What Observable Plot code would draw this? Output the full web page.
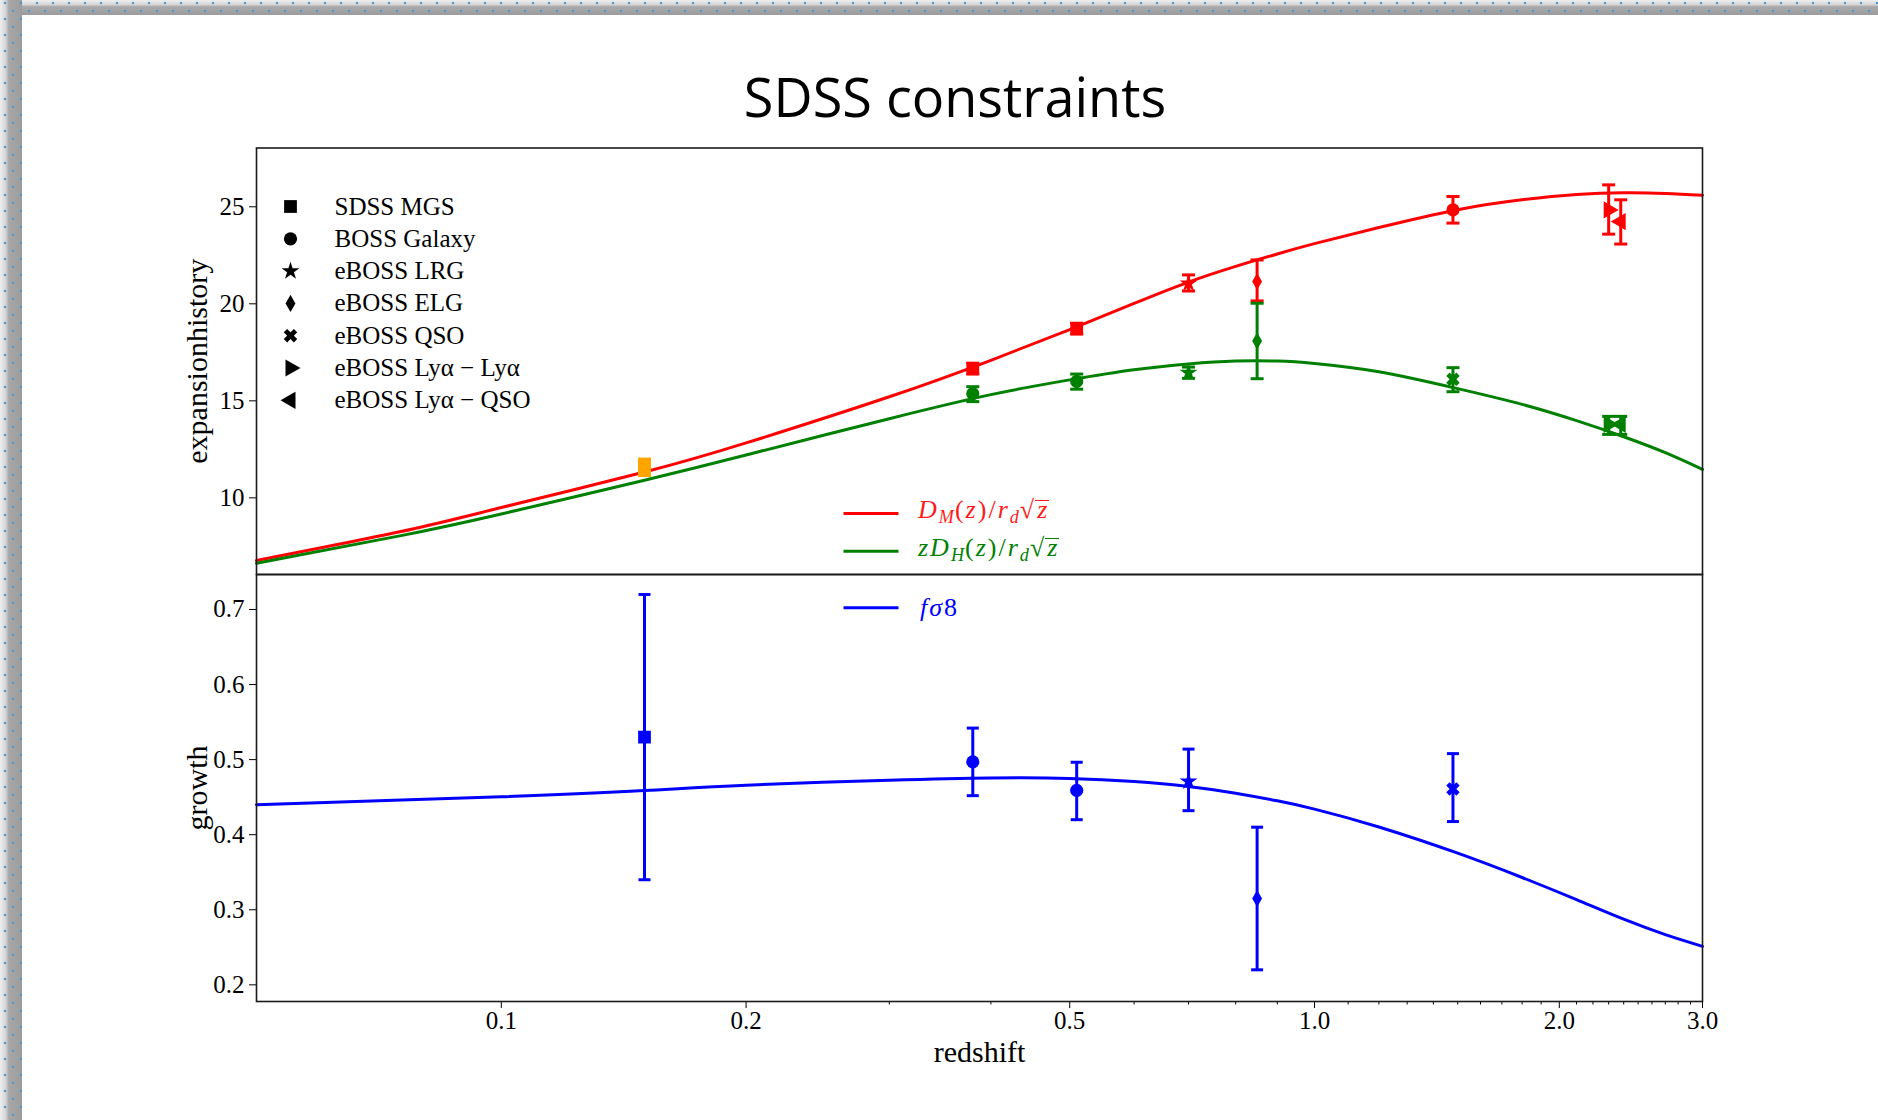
<!DOCTYPE html>
<html>
<head>
<meta charset="utf-8">
<script src="https://cdn.jsdelivr.net/npm/d3@7"></script>
<script src="https://cdn.jsdelivr.net/npm/@observablehq/plot@0.6"></script>
<style>
html, body { margin:0; padding:0; background:#fff; }
#page { position:relative; width:1878px; height:1120px; overflow:hidden; background:#fff; }
#bandTop { position:absolute; left:0; top:0; width:1878px; height:15px;
  background-image:
    radial-gradient(circle, #3f9bd8 0 1.1px, transparent 1.6px),
    radial-gradient(circle, #3f9bd8 0 1.1px, transparent 1.6px),
    linear-gradient(#eeeeee, #d6d6d6 30%, #a8a8a8 45%, #9c9c9c);
  background-size: 16px 16px, 16px 16px, 100% 100%;
  background-position: -3px -5px, 5px 3px, 0 0;
  background-repeat: repeat-x, repeat-x, no-repeat; }
#bandLeft { position:absolute; left:0; top:0; width:22px; height:1120px;
  background-image:
    radial-gradient(circle, #3f9bd8 0 1.1px, transparent 1.6px),
    radial-gradient(circle, #3f9bd8 0 1.1px, transparent 1.6px),
    radial-gradient(circle, #3f9bd8 0 1.1px, transparent 1.6px),
    linear-gradient(to right, #eeeeee, #d6d6d6 25%, #a8a8a8 40%, #9c9c9c);
  background-size: 16px 16px, 16px 16px, 16px 16px, 100% 100%;
  background-position: -3px 11px, 5px 3px, 13px 11px, 0 0;
  background-repeat: repeat-y, repeat-y, repeat-y, no-repeat; }
#title { position:absolute; left:955px; top:69px; transform:translateX(-50%);
  font-family:"Open Sans", sans-serif; font-size:54px; line-height:54px; white-space:nowrap; color:#000; }
.panel { position:absolute; left:0; }
.mathleg { position:absolute; font-family:"Liberation Serif", serif; font-size:26px; line-height:26px; letter-spacing:2px; white-space:nowrap; }
.mathleg sub { font-size:0.7em; vertical-align:-0.3em; line-height:0; font-style:italic; letter-spacing:1px; }
.mathleg .ov { display:inline-block; line-height:18px; border-top:1.5px solid currentColor; margin-left:-1px; padding-left:2px; }
</style>
</head>
<body>
<div id="page">
  <div id="bandTop"></div>
  <div id="bandLeft"></div>
  <div id="title">SDSS constraints</div>
  <div id="topPanel" class="panel" style="top:120px"></div>
  <div id="botPanel" class="panel" style="top:554px"></div>
  <div class="mathleg" style="left:918px;top:497px;color:#ff1a1a"><i>D</i><sub>M</sub>(<i>z</i>)/<i>r</i><sub>d</sub>√<span class="ov"><i>z</i></span></div>
  <div class="mathleg" style="left:918px;top:535px;color:#008000"><i>zD</i><sub>H</sub>(<i>z</i>)/<i>r</i><sub>d</sub>√<span class="ov"><i>z</i></span></div>
  <div class="mathleg" style="left:920px;top:595px;color:#0000ff"><i>fσ</i>8</div>
</div>
<script>
// ---------- data ----------
// theory curves, top panel
const curveZ   = [0.05, 0.075, 0.1, 0.15, 0.2, 0.3, 0.4, 0.5, 0.6, 0.7, 0.8, 0.9, 1.0, 1.2, 1.5, 1.8, 2.1, 2.4, 2.7, 3.0];
const dmCurve  = [6.77, 8.25, 9.5, 11.33, 12.83, 15.21, 17.09, 18.67, 20.02, 21.12, 21.93, 22.57, 23.10, 23.93, 24.85, 25.36, 25.63, 25.72, 25.69, 25.60];
const dhCurve  = [6.63, 8.04, 9.17, 10.91, 12.21, 14.08, 15.32, 16.08, 16.6, 16.9, 17.05, 17.05, 16.93, 16.5, 15.63, 14.82, 13.98, 13.15, 12.33, 11.47];
// theory curve, bottom panel
const fsCurveZ = [0.05, 0.1, 0.15, 0.2, 0.3, 0.4, 0.5, 0.6, 0.7, 0.8, 0.9, 1.0, 1.2, 1.5, 1.8, 2.1, 2.4, 2.7, 3.0];
const fsCurve  = [0.440, 0.4505, 0.4588, 0.4660, 0.4725, 0.4755, 0.4750, 0.4710, 0.4643, 0.4553, 0.4451, 0.4341, 0.4103, 0.3754, 0.3430, 0.3135, 0.2874, 0.2669, 0.2513];

// measurements
const mgsZ = [0.15], mgsV = [11.55], mgsLo = [11.05], mgsHi = [12.05], mgsSym = ["square"];
const dmZ   = [0.38, 0.51, 0.70, 0.85, 1.48, 2.30, 2.38];
const dmV   = [16.66, 18.72, 21.05, 21.15, 24.84, 24.84, 24.24];
const dmLo  = [16.38, 18.44, 20.66, 20.15, 24.16, 23.59, 23.08];
const dmHi  = [16.94, 19.0, 21.49, 22.26, 25.53, 26.13, 25.36];
const dmSym = ["square", "square", "star", "diamond", "circle", "triR", "triL"];
const dhZ   = [0.38, 0.51, 0.70, 0.85, 1.48, 2.30, 2.38];
const dhV   = [15.37, 16.0, 16.45, 18.09, 16.11, 13.79, 13.79];
const dhLo  = [14.96, 15.6, 16.16, 16.14, 15.47, 13.27, 13.27];
const dhHi  = [15.73, 16.38, 16.74, 20.03, 16.71, 14.2, 14.2];
const dhSym = ["circle", "circle", "star", "diamond", "qso", "triR", "triL"];
const fsZ   = [0.15, 0.38, 0.51, 0.70, 0.85, 1.48];
const fsV   = [0.53, 0.497, 0.459, 0.471, 0.315, 0.461];
const fsLo  = [0.34, 0.452, 0.420, 0.432, 0.220, 0.4175];
const fsHi  = [0.72, 0.542, 0.4965, 0.514, 0.41, 0.508];
const fsSym = ["square", "circle", "circle", "star", "diamond", "qso"];

// legend + ticks
const legendLabels = ["SDSS MGS", "BOSS Galaxy", "eBOSS LRG", "eBOSS ELG", "eBOSS QSO", "eBOSS Lyα − Lyα", "eBOSS Lyα − QSO"];
const legendSyms   = ["square", "circle", "star", "diamond", "qso", "triR", "triL"];
const yTopTicks = [10, 15, 20, 25];
const yBotTicks = [0.2, 0.3, 0.4, 0.5, 0.6, 0.7];
const xMajorTicks = [0.1, 0.2, 0.5, 1.0, 2.0, 3.0];
const xMinorTicks = [0.3, 0.4, 0.6, 0.7, 0.8, 0.9, 1.1, 1.2, 1.3, 1.4, 1.5, 1.6, 1.7, 1.8, 1.9, 2.1, 2.2, 2.3, 2.4, 2.5, 2.6, 2.7, 2.8, 2.9];

// ---------- helpers ----------
const rows = (Z, V, Lo, Hi, S) => Z.map((z, i) => ({z, v: V[i], lo: Lo[i], hi: Hi[i], sym: S[i]}));
const curveRows = (Z, V) => Z.map((z, i) => ({z, v: V[i]}));
const capSym = {draw(ctx, size) { const w = Math.sqrt(size / Math.PI); ctx.moveTo(-w, 0); ctx.lineTo(w, 0); }};
const MARK = {
  square:  {symbol: "square",   r: 7.2, rotate: 0},
  circle:  {symbol: "circle",   r: 6.6, rotate: 0},
  star:    {symbol: "star",     r: 5.6, rotate: 0},
  diamond: {symbol: "diamond",  r: 5.2, rotate: 0},
  qso:     {symbol: "cross",    r: 6.0, rotate: 45},
  triR:    {symbol: "triangle", r: 6.4, rotate: 90},
  triL:    {symbol: "triangle", r: 6.4, rotate: -90}
};
function pointMarks(data, color, capR, barWidth = 3) {
  const marks = [Plot.ruleX(data, {x: "z", y1: "lo", y2: "hi", stroke: color, strokeWidth: barWidth})];
  if (capR > 0) {
    marks.push(Plot.dot(data, {x: "z", y: "lo", symbol: capSym, r: capR, stroke: color, strokeWidth: 3, fill: "none"}));
    marks.push(Plot.dot(data, {x: "z", y: "hi", symbol: capSym, r: capR, stroke: color, strokeWidth: 3, fill: "none"}));
  }
  for (const key of new Set(data.map(d => d.sym))) {
    const m = MARK[key];
    marks.push(Plot.dot(data.filter(d => d.sym === key), {x: "z", y: "v", symbol: m.symbol, r: m.r, rotate: m.rotate, fill: color, stroke: "none"}));
  }
  return marks;
}
const FONT = "Liberation Serif, Times New Roman, serif";
const svgStyle = {background: "transparent", overflow: "visible", maxWidth: "none", fontFamily: FONT, fontSize: "25px", color: "#000"};

// ---------- top panel ----------
const legendMarks = [];
legendLabels.forEach((lab, i) => {
  const m = MARK[legendSyms[i]];
  legendMarks.push(Plot.dot([lab], {frameAnchor: "top-left", dx: 34, dy: 58.5 + 32.3 * i, symbol: m.symbol, r: m.r, rotate: m.rotate, fill: "#000", stroke: "none"}));
  legendMarks.push(Plot.text([lab], {frameAnchor: "top-left", dx: 78, dy: 58.5 + 32.3 * i, text: d => d, textAnchor: "start", lineAnchor: "middle", fontSize: 25, fill: "#000"}));
});
const lineSym = {draw(ctx, size) { const w = Math.sqrt(size / Math.PI); ctx.moveTo(-w, 0); ctx.lineTo(w, 0); }};

const topPlot = Plot.plot({
  width: 1878, height: 460,
  marginLeft: 256, marginRight: 176, marginTop: 27.5, marginBottom: 6,
  x: {type: "log", domain: [0.05, 3], axis: null, label: null},
  y: {domain: [6.05, 28.03], label: null},
  style: svgStyle,
  marks: [
    Plot.axisY(yTopTicks, {tickSize: 7, tickPadding: 5, fontSize: 25, label: null, tickFormat: d => String(d)}),
    Plot.text(["expansionhistory"], {frameAnchor: "left", dx: -71, rotate: -90, lineAnchor: "top", textAnchor: "middle", fontSize: 30, text: d => d, fill: "#000"}),
    Plot.line(curveRows(curveZ, dmCurve), {x: "z", y: "v", stroke: "#ff0000", strokeWidth: 3, curve: "natural"}),
    Plot.line(curveRows(curveZ, dhCurve), {x: "z", y: "v", stroke: "#008000", strokeWidth: 3, curve: "natural"}),
    ...pointMarks(rows(mgsZ, mgsV, mgsLo, mgsHi, mgsSym), "#ffa500", 0, 13),
    ...pointMarks(rows(dmZ, dmV, dmLo, dmHi, dmSym), "#ff0000", 6.5),
    ...pointMarks(rows(dhZ, dhV, dhLo, dhHi, dhSym), "#008000", 6.5),
    ...legendMarks,
    Plot.dot(["DM"], {frameAnchor: "top-left", dx: 614.5, dy: 365.5, symbol: lineSym, r: 27.5, stroke: "#ff0000", strokeWidth: 3, fill: "none"}),
    Plot.dot(["DH"], {frameAnchor: "top-left", dx: 614.5, dy: 403.2, symbol: lineSym, r: 27.5, stroke: "#008000", strokeWidth: 3, fill: "none"}),
    Plot.frame({stroke: "#1a1a1a", strokeWidth: 1.6})
  ]
});
document.getElementById("topPanel").appendChild(topPlot);

// ---------- bottom panel ----------
const botPlot = Plot.plot({
  width: 1878, height: 520,
  marginLeft: 256, marginRight: 176, marginTop: 20, marginBottom: 73,
  x: {type: "log", domain: [0.05, 3], label: null},
  y: {domain: [0.1778, 0.7466], label: null},
  style: svgStyle,
  marks: [
    Plot.axisX(xMajorTicks, {tickSize: 7, tickPadding: 3, fontSize: 25, label: null, tickFormat: d => d.toFixed(1)}),
    Plot.axisX(xMinorTicks, {tickSize: 3.5, label: null, tickFormat: () => ""}),
    Plot.axisY(yBotTicks, {tickSize: 7, tickPadding: 5, fontSize: 25, label: null, tickFormat: d => d.toFixed(1)}),
    Plot.text(["growth"], {frameAnchor: "left", dx: -71, rotate: -90, lineAnchor: "top", textAnchor: "middle", fontSize: 30, text: d => d, fill: "#000"}),
    Plot.text(["redshift"], {frameAnchor: "bottom", dy: 60, lineAnchor: "bottom", textAnchor: "middle", fontSize: 30, text: d => d, fill: "#000"}),
    Plot.line(curveRows(fsCurveZ, fsCurve), {x: "z", y: "v", stroke: "#0000ff", strokeWidth: 3, curve: "natural"}),
    ...pointMarks(rows(fsZ, fsV, fsLo, fsHi, fsSym), "#0000ff", 6),
    Plot.dot(["fs8"], {frameAnchor: "top-left", dx: 614.5, dy: 33.2, symbol: lineSym, r: 27.5, stroke: "#0000ff", strokeWidth: 3, fill: "none"}),
    Plot.frame({stroke: "#1a1a1a", strokeWidth: 1.6})
  ]
});
document.getElementById("botPanel").appendChild(botPlot);
</script>
</body>
</html>
